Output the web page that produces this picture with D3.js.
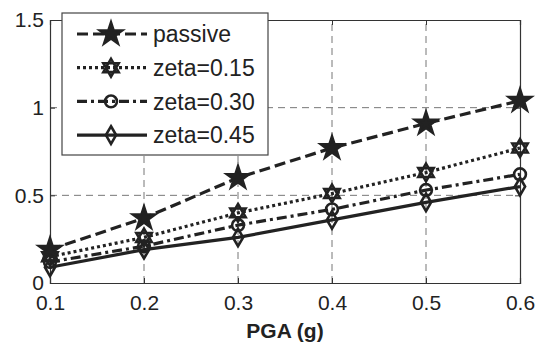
<!DOCTYPE html>
<meta charset="utf-8">
<html>
<head>
<script src="https://d3js.org/d3.v7.min.js"></script>
<style>
    body { margin: 0; background: #fff; font-family: "Liberation Sans", Arial, sans-serif; }
    svg { display: block; }
</style>
</head>
<body>
<svg id="chart"></svg>
<script>

var pga = [0.1, 0.2, 0.3, 0.4, 0.5, 0.6]
var passive = [0.19, 0.37, 0.60, 0.77, 0.91, 1.04]
var zeta015 = [0.15, 0.26, 0.40, 0.51, 0.63, 0.77]
var zeta030 = [0.12, 0.21, 0.33, 0.42, 0.53, 0.62]
var zeta045 = [0.09, 0.19, 0.26, 0.36, 0.46, 0.55]
var seriesNames = ["passive", "zeta=0.15", "zeta=0.30", "zeta=0.45"]
var xTicks = [0.1, 0.2, 0.3, 0.4, 0.5, 0.6]
var yTicks = [0, 0.5, 1, 1.5]

var width = 538, height = 353
var margin = {left: 50, right: 18, top: 20, bottom: 70}

var svg = d3.select("#chart").attr("width", width).attr("height", height)

var x = d3.scaleLinear().domain([0.1, 0.6]).range([margin.left, width - margin.right])
var y = d3.scaleLinear().domain([0, 1.5]).range([height - margin.bottom, margin.top])

// hexagram marker (two triangles)
var hexagram = {
    draw: function(ctx, size) {
        var r = Math.sqrt(size) * 0.75
        for (var k = 0; k < 2; k++) {
            for (var i = 0; i < 3; i++) {
                var a = (k * 60 + i * 120 - 90) * Math.PI / 180
                if (i == 0) ctx.moveTo(r * Math.cos(a), r * Math.sin(a))
                else ctx.lineTo(r * Math.cos(a), r * Math.sin(a))
            }
            ctx.closePath()
        }
    }
}

var styles = [
    {vals: passive, dash: "11,5", sym: d3.symbolStar, size: 150, fill: "#222"},
    {vals: zeta015, dash: "3,3", sym: hexagram, size: 140, fill: "none"},
    {vals: zeta030, dash: "10,4,3,4", sym: d3.symbolCircle, size: 110, fill: "none"},
    {vals: zeta045, dash: null, sym: d3.symbolDiamond, size: 90, fill: "none"}
]

// grid
svg.append("g").selectAll("line")
    .data(xTicks.slice(1, -1))
    .enter().append("line")
    .attr("x1", d => x(d)).attr("x2", d => x(d))
    .attr("y1", y(0)).attr("y2", y(1.5))
    .attr("stroke", "#777").attr("stroke-width", 1).attr("stroke-dasharray", "7,5")
svg.append("g").selectAll("line")
    .data(yTicks.slice(1, -1))
    .enter().append("line")
    .attr("y1", d => y(d)).attr("y2", d => y(d))
    .attr("x1", x(0.1)).attr("x2", x(0.6))
    .attr("stroke", "#777").attr("stroke-width", 1).attr("stroke-dasharray", "7,5")

// axes
var xAxis = svg.append("g")
    .attr("transform", "translate(0," + y(0) + ")")
    .call(d3.axisBottom(x).tickValues(xTicks).tickSize(-5).tickPadding(12).tickFormat(d3.format(".1f")))
var yAxis = svg.append("g")
    .attr("transform", "translate(" + x(0.1) + ",0)")
    .call(d3.axisLeft(y).tickValues(yTicks).tickSize(-5).tickPadding(6).tickFormat(d => d))
svg.append("g")
    .attr("transform", "translate(0," + y(1.5) + ")")
    .call(d3.axisTop(x).tickValues(xTicks).tickSize(-5).tickFormat(""))
svg.append("g")
    .attr("transform", "translate(" + x(0.6) + ",0)")
    .call(d3.axisRight(y).tickValues(yTicks).tickSize(-5).tickFormat(""))
svg.selectAll(".domain").attr("stroke", "#333").attr("stroke-width", 1.2)
svg.selectAll(".tick line").attr("stroke", "#333")
svg.selectAll(".tick text")
    .attr("font-family", "Liberation Sans, Arial, sans-serif")
    .attr("font-size", 21).attr("fill", "#222")
yAxis.selectAll(".tick text").attr("dy", "0.32em")

svg.append("text")
    .attr("x", (x(0.1) + x(0.6)) / 2).attr("y", 338)
    .attr("text-anchor", "middle")
    .attr("font-size", 21).attr("font-weight", "bold").attr("fill", "#222")
    .text("PGA (g)")

// series
var line = d3.line().x((d, i) => x(pga[i])).y(d => y(d))
styles.forEach(function(s) {
    svg.append("path")
        .attr("d", line(s.vals))
        .attr("fill", "none").attr("stroke", "#222").attr("stroke-width", 3.2)
        .attr("stroke-dasharray", s.dash)
    svg.append("g").selectAll("path")
        .data(s.vals)
        .enter().append("path")
        .attr("transform", (d, i) => "translate(" + x(pga[i]) + "," + y(d) + ")")
        .attr("d", d3.symbol().type(s.sym).size(s.size))
        .attr("fill", s.fill).attr("stroke", "#222").attr("stroke-width", 2.6)
})

// legend
var lg = svg.append("g")
lg.append("rect")
    .attr("x", 62).attr("y", 13).attr("width", 206).attr("height", 142)
    .attr("fill", "#fff").attr("stroke", "#444").attr("stroke-width", 1.2)
var rows = lg.selectAll("g.row")
    .data(styles)
    .enter().append("g")
    .attr("transform", (d, i) => "translate(0," + (34 + i * 33.7) + ")")
rows.append("line")
    .attr("x1", 77).attr("x2", 147).attr("y1", 0).attr("y2", 0)
    .attr("stroke", "#222").attr("stroke-width", 3.2)
    .attr("stroke-dasharray", d => d.dash)
rows.append("path")
    .attr("transform", "translate(111,0)")
    .attr("d", d => d3.symbol().type(d.sym).size(d.size)())
    .attr("fill", d => d.fill).attr("stroke", "#222").attr("stroke-width", 2.6)
rows.append("text")
    .attr("x", 153).attr("y", 0).attr("dy", "0.36em")
    .attr("font-size", 23).attr("fill", "#222")
    .text((d, i) => seriesNames[i])
</script>
</body>
</html>
